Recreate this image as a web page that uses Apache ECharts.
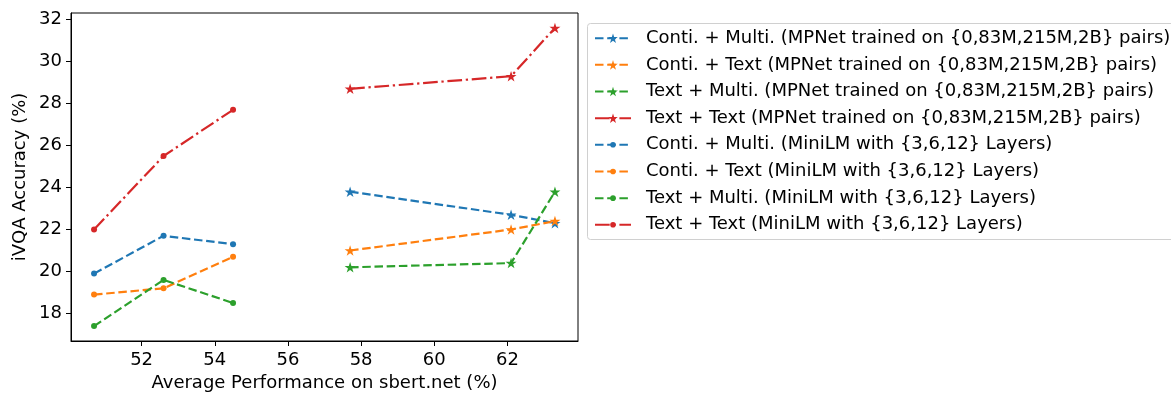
<!DOCTYPE html>
<html>
<head>
<meta charset="utf-8">
<script src="https://cdn.jsdelivr.net/npm/echarts@6/dist/echarts.min.js"></script>
<style>
html,body{margin:0;padding:0;background:#fff;}
#chart{width:1171px;height:393px;}
</style>
</head>
<body>
<div id="chart"></div>
<script>
// ---- data ----
const mpnetX = [57.7, 62.1, 63.3];
const minilmX = [50.7, 52.6, 54.5];

const mpnetContiMulti = [23.8, 22.7, 22.3];
const mpnetContiText  = [21.0, 22.0, 22.4];
const mpnetTextMulti  = [20.2, 20.4, 23.8];
const mpnetTextText   = [28.7, 29.3, 31.6];

const minilmContiMulti = [19.9, 21.7, 21.3];
const minilmContiText  = [18.9, 19.2, 20.7];
const minilmTextMulti  = [17.4, 19.6, 18.5];
const minilmTextText   = [22.0, 25.5, 27.7];

const mpnetNames = [
  'Conti. + Multi. (MPNet trained on {0,83M,215M,2B} pairs)',
  'Conti. + Text (MPNet trained on {0,83M,215M,2B} pairs)',
  'Text + Multi. (MPNet trained on {0,83M,215M,2B} pairs)',
  'Text + Text (MPNet trained on {0,83M,215M,2B} pairs)'
];
const minilmNames = [
  'Conti. + Multi. (MiniLM with {3,6,12} Layers)',
  'Conti. + Text (MiniLM with {3,6,12} Layers)',
  'Text + Multi. (MiniLM with {3,6,12} Layers)',
  'Text + Text (MiniLM with {3,6,12} Layers)'
];

const xTicks = [52, 54, 56, 58, 60, 62];
const yTicks = [18, 20, 22, 24, 26, 28, 30, 32];

const xLabel = 'Average Performance on sbert.net (%)';
const yLabel = 'iVQA Accuracy (%)';

// ---- styles ----
const colors = ['#1f77b4', '#ff7f0e', '#2ca02c', '#d62728'];
const dashed = [8.5, 3.7];
const dashDot = [14.7, 3.7, 2.3, 3.7];
const lineTypes = [dashed, dashed, dashed, dashDot];
const STAR = 'path://M50,0L38.8,34.5L2.4,34.5L31.8,55.9L20.6,90.5L50,69.1L79.4,90.5L68.2,55.9L97.6,34.5L61.2,34.5Z';
const FONT = 'DejaVu Sans';
const FS = 18;

function pairs(xs, ys) { return xs.map((x, i) => [x, ys[i]]); }

const mpnetVals = [mpnetContiMulti, mpnetContiText, mpnetTextMulti, mpnetTextText];
const minilmVals = [minilmContiMulti, minilmContiText, minilmTextMulti, minilmTextText];

const series = [];
mpnetVals.forEach((v, i) => {
  series.push({
    name: mpnetNames[i], type: 'line', data: pairs(mpnetX, v),
    symbol: STAR, symbolSize: 11, symbolKeepAspect: true,
    color: colors[i],
    lineStyle: { width: 2.2, type: lineTypes[i], color: colors[i] },
    itemStyle: { color: colors[i], borderWidth: 0 },
    animation: false, z: 2 + i
  });
});
minilmVals.forEach((v, i) => {
  series.push({
    name: minilmNames[i], type: 'line', data: pairs(minilmX, v),
    symbol: 'circle', symbolSize: 6,
    color: colors[i],
    lineStyle: { width: 2.2, type: lineTypes[i], color: colors[i] },
    itemStyle: { color: colors[i], borderWidth: 0 },
    animation: false, z: 6 + i
  });
});

const legendText = { fontFamily: FONT, fontSize: FS, color: '#000', lineHeight: 21, padding: [0, 0, 0, 10] };

const chart = echarts.init(document.getElementById('chart'), null, { renderer: 'canvas' });
chart.setOption({
  backgroundColor: '#fff',
  animation: false,
  grid: { left: 71, top: 13, width: 507, height: 328, outerBoundsMode: 'none', containLabel: false, show: true, borderColor: '#000', borderWidth: 1, backgroundColor: 'transparent' },
  xAxis: {
    type: 'value', min: 50.07, max: 63.93,
    name: xLabel, nameLocation: 'middle', nameGap: 32,
    nameTextStyle: { fontFamily: FONT, fontSize: FS, color: '#000' },
    axisLine: { show: true, onZero: false, lineStyle: { color: '#000', width: 1 } },
    axisTick: { show: true, length: 5, customValues: xTicks, lineStyle: { color: '#000', width: 1 } },
    axisLabel: { customValues: xTicks, margin: 10, fontFamily: FONT, fontSize: FS, color: '#000' },
    splitLine: { show: false }
  },
  yAxis: {
    type: 'value', min: 16.69, max: 32.31,
    name: yLabel, nameLocation: 'middle', nameGap: 42,
    nameTextStyle: { fontFamily: FONT, fontSize: FS, color: '#000' },
    axisLine: { show: true, onZero: false, lineStyle: { color: '#000', width: 1 } },
    axisTick: { show: true, length: 5, customValues: yTicks, lineStyle: { color: '#000', width: 1 } },
    axisLabel: { customValues: yTicks, margin: 9, fontFamily: FONT, fontSize: FS, color: '#000' },
    splitLine: { show: false }
  },
  graphic: [{
    type: 'rect', left: 587, top: 23, z: 0,
    shape: { width: 600, height: 216, r: 3 },
    style: { fill: '#fff', stroke: '#d0d0d0', lineWidth: 1 }
  }],
  legend: [{
    orient: 'vertical', left: 594, top: 27.7, padding: 0, itemWidth: 36, itemHeight: 12, itemGap: 5.67,
    data: mpnetNames, textStyle: legendText, selectedMode: false
  }, {
    orient: 'vertical', left: 594, top: 134.3, padding: 0, itemWidth: 36, itemHeight: 7, itemGap: 5.67,
    data: minilmNames, textStyle: legendText, selectedMode: false
  }],
  series: series
});
</script>
</body>
</html>
